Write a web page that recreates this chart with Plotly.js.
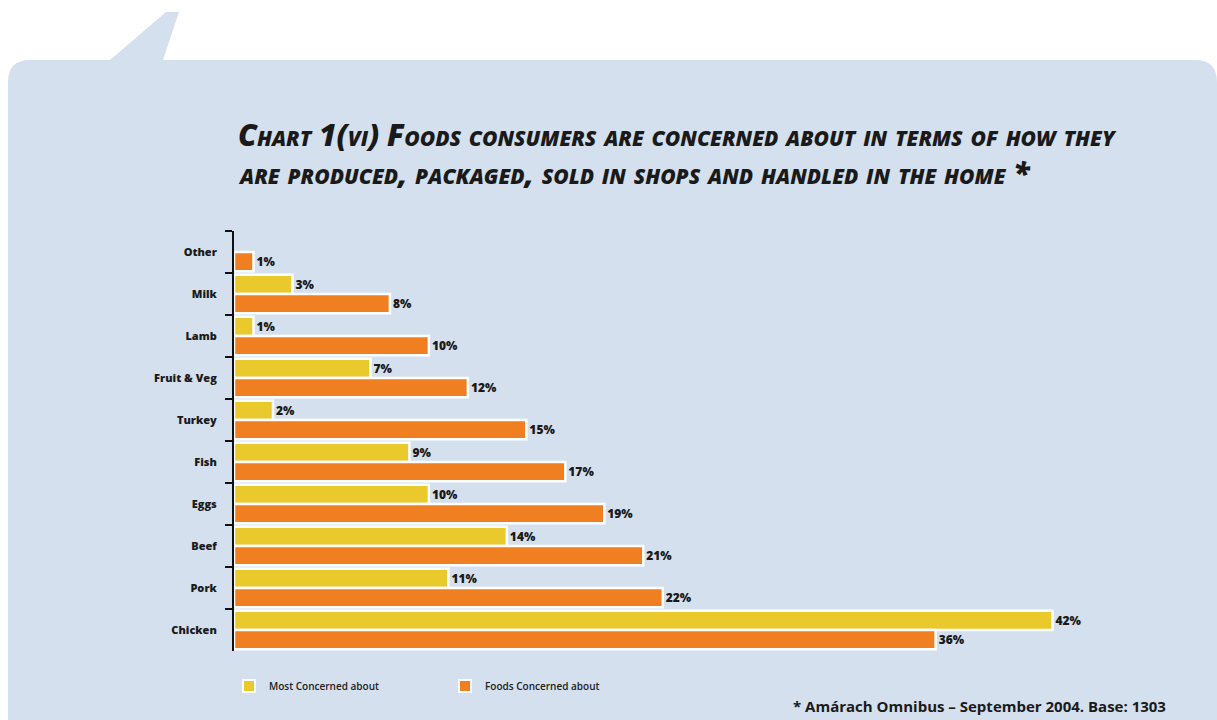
<!DOCTYPE html>
<html>
<head>
<meta charset="utf-8">
<script src="https://cdn.plot.ly/plotly-3.0.1.min.js"></script>
<style>
html,body{margin:0;padding:0;background:#ffffff;}
#chart{width:1217px;height:720px;}
</style>
</head>
<body>
<div id="chart"></div>
<script>
// ---- data ----
const categories = ["Other","Milk","Lamb","Fruit & Veg","Turkey","Fish","Eggs","Beef","Pork","Chicken"];
const mostConcerned = [null,3,1,7,2,9,10,14,11,42];
const foodsConcerned = [1,8,10,12,15,17,19,21,22,36];
const seriesNames = ["Most Concerned about","Foods Concerned about"];
const titleLine1 = "Chart 1(vi) Foods consumers are concerned about in terms of how they";
const titleLine2 = "are produced, packaged, sold in shops and handled in the home *";
const footnote = "* Amárach Omnibus – September 2004. Base: 1303";

// ---- layout helpers (pixel -> paper) ----
const W = 1217, H = 720;
const L = 234, R = 1150, T = 231, B = 651;
const px2x = p => (p - L) / (R - L);
const py2y = p => (B - p) / (B - T);
function pathFrom(cmds){
  return cmds.map(c => {
    if (c[0] === 'Z') return 'Z';
    let s = c[0];
    for (let i = 1; i < c.length; i += 2) s += ' ' + px2x(c[i]).toFixed(5) + ',' + py2y(c[i+1]).toFixed(5);
    return s;
  }).join(' ');
}
const panel = pathFrom([
  ['M',30,60],['L',110,60],['L',166,12],['L',179,12],['L',163,60],['L',1195,60],
  ['Q',1217,60,1217,82],['L',1217,740],['L',8,740],['L',8,82],['Q',8,60,30,60],['Z']
]);

const fmt = v => (v === null ? '' : v + '%');
const labelFont = {family:'"Open Sans", sans-serif', size:12, color:'#1a1a1a', weight:800};

const traces = [
  {type:'bar', orientation:'h', name:seriesNames[0], y:categories, x:mostConcerned,
   text:mostConcerned.map(fmt), textposition:'outside', cliponaxis:false,
   textfont:labelFont,
   marker:{color:'#e9c92c', line:{color:'#ffffff', width:2.5}}, hoverinfo:'x+y'},
  {type:'bar', orientation:'h', name:seriesNames[1], y:categories, x:foodsConcerned,
   text:foodsConcerned.map(fmt), textposition:'outside', cliponaxis:false,
   textfont:labelFont,
   marker:{color:'#f07f22', line:{color:'#ffffff', width:2.5}}, hoverinfo:'x+y'}
];

const titleFont = {family:'"Open Sans", sans-serif', size:30, color:'#1a1a1a', weight:800, style:'italic', variant:'small-caps'};

const layout = {
  width:W, height:H,
  paper_bgcolor:'#ffffff', plot_bgcolor:'rgba(0,0,0,0)',
  margin:{l:L, r:W-R, t:T, b:H-B, pad:0},
  barmode:'group', bargap:0.08, bargroupgap:0,
  showlegend:true,
  legend:{orientation:'h', x:px2x(229), y:py2y(686), xanchor:'left', yanchor:'middle',
    font:{family:'"Open Sans", sans-serif', size:10, color:'#222', weight:600},
    entrywidth:171, entrywidthmode:'pixels', traceorder:'normal', bgcolor:'rgba(0,0,0,0)',
    itemsizing:'constant'},
  xaxis:{range:[0,47], visible:false, fixedrange:true},
  yaxis:{type:'category', categoryorder:'array', categoryarray:categories, autorange:'reversed',
    showline:true, linecolor:'#111', linewidth:2, ticks:'outside', ticklen:7, tickwidth:2, tickcolor:'#111',
    tickson:'boundaries', showgrid:false, zeroline:false,
    tickfont:{family:'"Open Sans", sans-serif', size:11, color:'#1a1a1a', weight:800},
    ticklabelstandoff:13, fixedrange:true},
  shapes:[
    {type:'path', xref:'paper', yref:'paper', path:panel, fillcolor:'#d5e0ee', line:{width:0}, layer:'below'}
  ],
  annotations:[
    {xref:'paper', yref:'paper', x:px2x(236), y:py2y(135), xanchor:'left', yanchor:'middle',
     text:titleLine1, showarrow:false, font:titleFont},
    {xref:'paper', yref:'paper', x:px2x(236), y:py2y(172), xanchor:'left', yanchor:'middle',
     text:titleLine2, showarrow:false, font:titleFont},
    {xref:'paper', yref:'paper', x:px2x(1168), y:py2y(706), xanchor:'right', yanchor:'middle',
     text:footnote, showarrow:false, font:{family:'"Open Sans", sans-serif', size:15, color:'#1a1a1a', weight:700}}
  ]
};

Plotly.newPlot('chart', traces, layout, {displayModeBar:false, staticPlot:true});
</script>
</body>
</html>
